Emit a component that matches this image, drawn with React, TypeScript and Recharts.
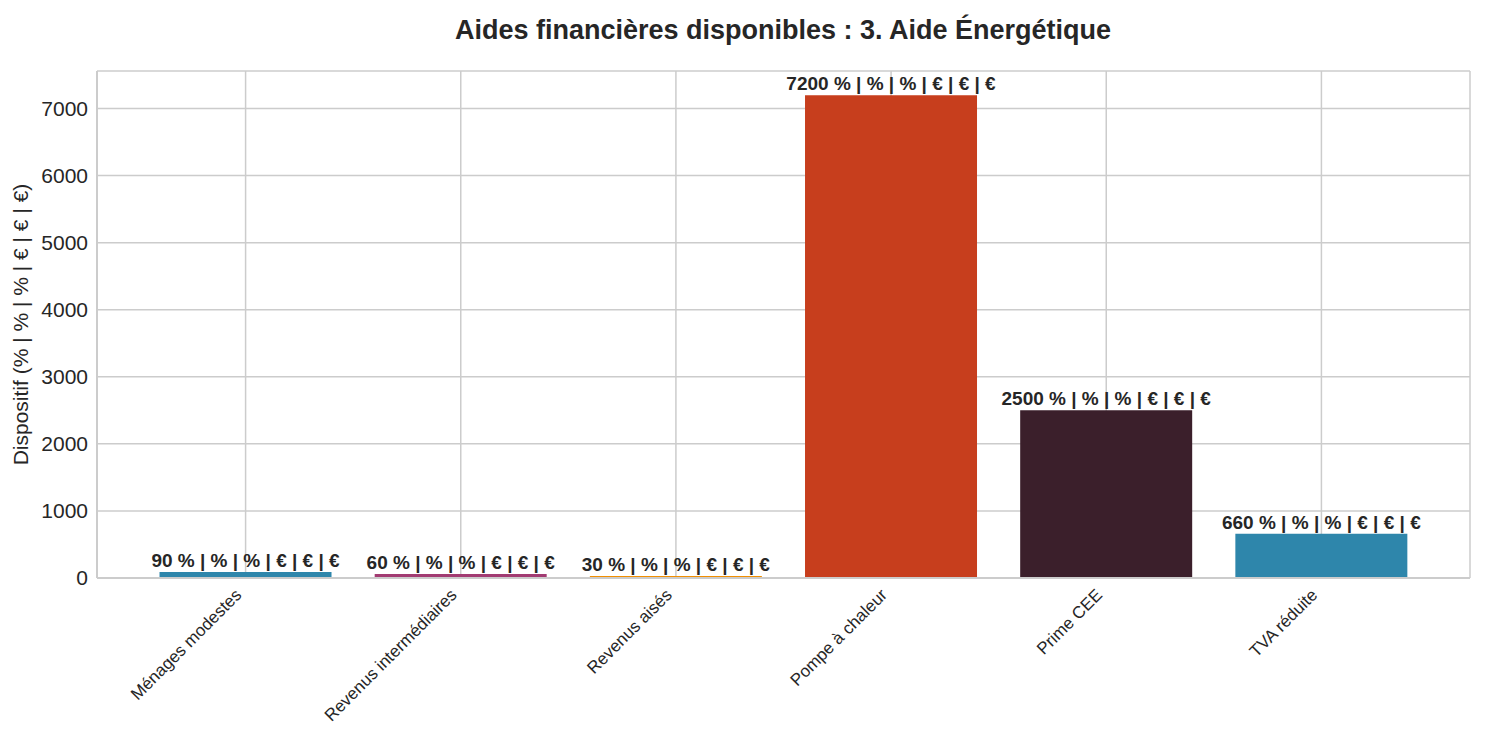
import { BarChart, Bar, XAxis, YAxis, CartesianGrid, Cell, LabelList } from "recharts";

const categories = [
  "Ménages modestes",
  "Revenus intermédiaires",
  "Revenus aisés",
  "Pompe à chaleur",
  "Prime CEE",
  "TVA réduite",
];
const values = [90, 60, 30, 7200, 2500, 660];
const colors = ["#2E86AB", "#A23B72", "#F18F01", "#C73E1D", "#3B1F2B", "#2E86AB"];
const yTicks = [0, 1000, 2000, 3000, 4000, 5000, 6000, 7000];
const labelSuffix = " % | % | % | € | € | €";

const data = categories.map((name, i) => ({ name, value: values[i] }));

const FONT = '"Liberation Sans", Arial, sans-serif';
const GRID = "#cccccc";

// rotated tick: top-right corner of the rotated text box sits just below the tick
function XTick(props: any) {
  const { x, y, payload } = props;
  const ax = x - 3;
  const ay = y + 18;
  return (
    <text
      x={ax}
      y={ay}
      transform={`rotate(-45, ${ax}, ${ay})`}
      textAnchor="end"
      fontSize={17}
      fill="#262626"
      fontFamily={FONT}
    >
      {payload.value}
    </text>
  );
}

function BarLabel(props: any) {
  const { x, y, width, value } = props;
  return (
    <text
      x={x + width / 2}
      y={y - 5}
      textAnchor="middle"
      fontSize={19}
      fontWeight="bold"
      fill="#262626"
      fontFamily={FONT}
    >
      {value + labelSuffix}
    </text>
  );
}

export default function App() {
  return (
    <div style={{ position: "absolute", left: 0, top: 0, width: 1485, height: 735, background: "#fff", fontFamily: FONT }}>
      <div
        style={{
          position: "absolute",
          top: 15,
          left: 0,
          width: 1566,
          textAlign: "center",
          fontSize: 27,
          fontWeight: "bold",
          color: "#262626",
        }}
      >
        Aides financières disponibles : 3. Aide Énergétique
      </div>
      <BarChart
        width={1485}
        height={735}
        data={data}
        margin={{ top: 71, right: 15, left: 0, bottom: 0 }}
        barCategoryGap="10%"
      >
        <CartesianGrid stroke={GRID} strokeWidth={1.5} />
        <XAxis
          dataKey="name"
          height={157}
          padding={{ left: 41, right: 41 }}
          tickLine={false}
          tickSize={0}
          tickMargin={0}
          axisLine={{ stroke: GRID, strokeWidth: 2 }}
          tick={<XTick />}
          interval={0}
        />
        <XAxis xAxisId="top" orientation="top" height={0} tick={false} tickLine={false} axisLine={{ stroke: GRID, strokeWidth: 2 }} />
        <YAxis
          width={97}
          domain={[0, 7560]}
          ticks={yTicks}
          tickLine={false}
          tickSize={0}
          tickMargin={9}
          axisLine={{ stroke: GRID, strokeWidth: 2 }}
          tick={{ fontSize: 21, fill: "#262626", fontFamily: FONT }}
          label={{
            value: "Dispositif (% | % | % | € | € | €)",
            angle: -90,
            position: "insideLeft",
            dx: 16,
            style: { textAnchor: "middle", fontSize: 21, fill: "#262626", fontFamily: FONT },
          }}
        />
        <YAxis yAxisId="right" orientation="right" width={0} tick={false} tickLine={false} axisLine={{ stroke: GRID, strokeWidth: 2 }} />
        <Bar dataKey="value" isAnimationActive={false}>
          {data.map((d, i) => (
            <Cell key={d.name} fill={colors[i]} />
          ))}
          <LabelList dataKey="value" content={<BarLabel />} />
        </Bar>
      </BarChart>
    </div>
  );
}
